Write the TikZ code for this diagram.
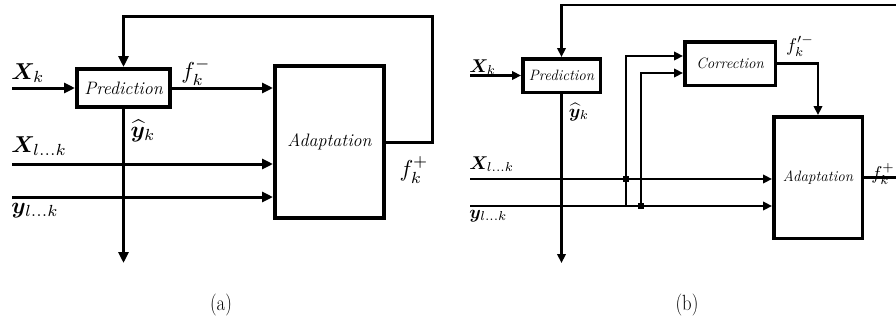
\documentclass[tikz,border=0pt]{standalone}
\usepackage{amsmath,bm}
\usetikzlibrary{arrows.meta}
\begin{document}
\begin{tikzpicture}[x=1pt,y=-1pt,
  boxa/.style={draw, line width=4pt, inner sep=0pt, font=\fontsize{18}{20}\selectfont\itshape},
  boxb/.style={draw, line width=3.5pt, inner sep=0pt, font=\fontsize{15}{17}\selectfont\itshape},
  conna/.style={line width=3pt, -{Triangle[length=11pt,width=10pt]}},
  connb/.style={line width=2.5pt, -{Triangle[length=9pt,width=8.5pt]}},
  connbplain/.style={line width=2.5pt},
  laba/.style={inner sep=0pt, transform shape, scale=2.3},
  labb/.style={inner sep=0pt, transform shape, scale=1.85},
  capt/.style={inner sep=0pt, font=\fontsize{22}{24}\selectfont, xscale=0.85},
  dot/.style={fill=black, inner sep=0pt, minimum size=6pt}]
\useasboundingbox (0,0) rectangle (896,327);

% ---------- panel (a) ----------
\node[boxa, minimum width=93pt, minimum height=38pt] (preda) at (123.5,88) {Prediction};
\node[boxa, minimum width=109pt, minimum height=152pt] (adapta) at (329.5,142) {Adaptation};
\coordinate (ina) at (12,88);
\coordinate (fbra) at (432,16);
\coordinate (outa) at (123.5,263);
\coordinate (xla) at (12,164);
\coordinate (yla) at (12,197);

\draw[conna] (ina) -- (preda.west);
\draw[conna] (preda.east) -- (adapta.west |- preda.east);
\draw[conna] (adapta.east) -| (fbra) -| (preda.north);
\draw[conna] (preda.south) -- (outa);
\draw[conna] (xla) -- (xla -| adapta.west);
\draw[conna] (yla) -- (yla -| adapta.west);

\node[laba, anchor=base west] (lxka) at (11,79) {$\boldsymbol{X}_k$};
\node[laba] (lfma) at (196,72) {$f_k^-$};
\node[laba] (lyha) at (143,131) {$\widehat{\boldsymbol{y}}_k$};
\node[laba, anchor=base west] (lxla) at (11,152) {$\boldsymbol{X}_{l\ldots k}$};
\node[laba, anchor=base west] (lyla) at (11,213) {$\boldsymbol{y}_{l\ldots k}$};
\node[laba] (lfpa) at (414,170) {$f_k^+$};
\node[capt] (capa) at (221,305) {(a)};

% ---------- panel (b) ----------
\node[boxb, minimum width=77.5pt, minimum height=33.5pt] (predb) at (561.5,75.5) {Prediction};
\node[boxb, minimum width=90.5pt, minimum height=43.5pt] (corrb) at (730,63.5) {Correction};
\node[boxb, minimum width=88.5pt, minimum height=121.5pt] (adaptb) at (818,177.5) {Adaptation};
\coordinate (inb) at (470,75.5);
\coordinate (fbrb) at (896,5);
\coordinate (outb) at (896,177.5);
\coordinate (outyb) at (561.5,263);
\coordinate (xlb) at (470,179);
\coordinate (ylb) at (470,206);
\coordinate (b1) at (626,206);
\node[dot] (d1) at (626,179) {};
\node[dot] (d2) at (641,206) {};

\draw[connb] (inb) -- (predb.west);
\draw[connb] (fbrb) -| (predb.north);
\draw[connb] (predb.south) -- (outyb);
\draw[connb] (corrb.east) -| (adaptb.north);
\draw[connbplain] (adaptb.east) -- (outb);
\draw[connb] (xlb) -- (xlb -| adaptb.west);
\draw[connb] (ylb) -- (ylb -| adaptb.west);
\draw[connb] (b1) |- ([yshift=7.5pt]corrb.west);
\draw[connb] (d2.center) |- ([yshift=-9.5pt]corrb.west);

\node[labb, anchor=base west] (lxkb) at (469,72) {$\boldsymbol{X}_k$};
\node[labb] (lyhb) at (579,112) {$\widehat{\boldsymbol{y}}_k$};
\node[labb] (lfmb) at (800,46) {$f_k^{\prime -}$};
\node[labb, anchor=base west] (lxlb) at (469,169) {$\boldsymbol{X}_{l\ldots k}$};
\node[labb, anchor=base west] (lylb) at (469,218) {$\boldsymbol{y}_{l\ldots k}$};
\node[labb] (lfpb) at (883,174) {$f_k^+$};
\node[capt] (capb) at (687,305) {(b)};
\end{tikzpicture}
\end{document}
